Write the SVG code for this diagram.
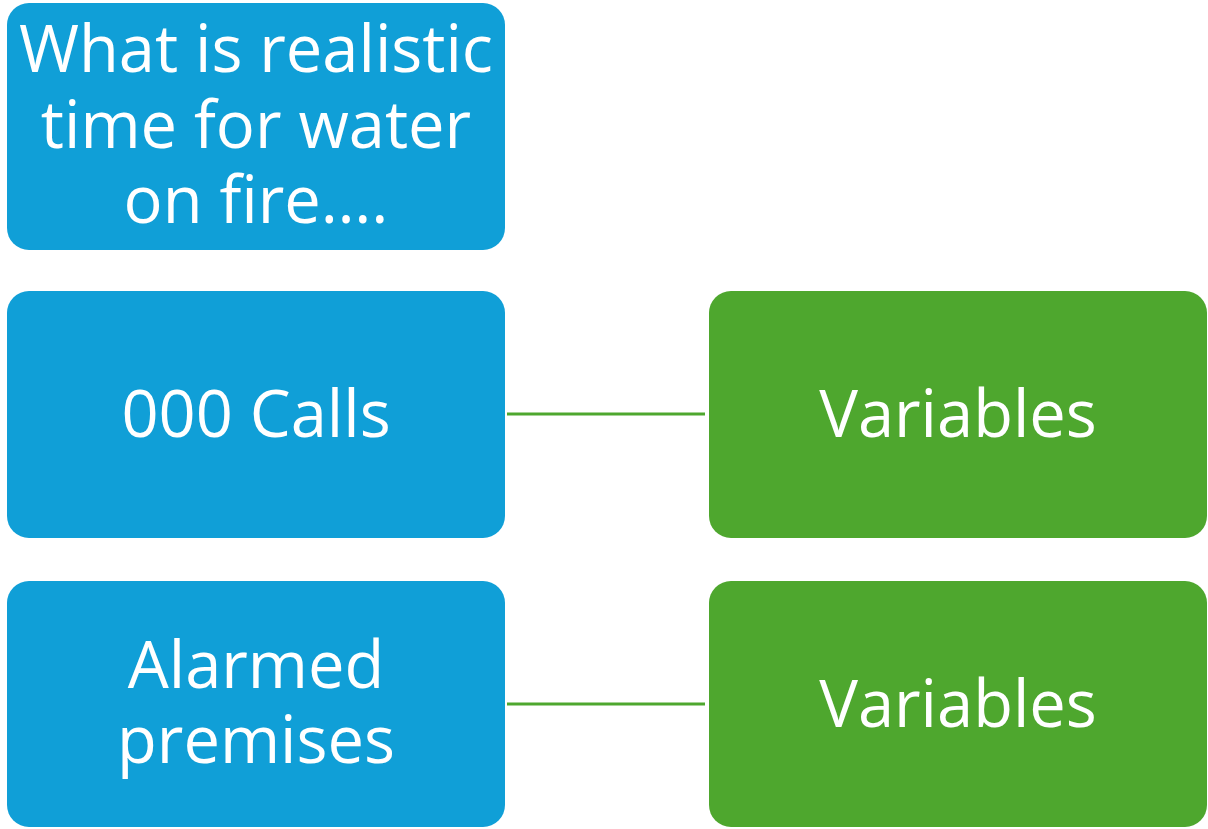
<svg xmlns="http://www.w3.org/2000/svg" width="1208" height="829" viewBox="0 0 1208 829">
  <style>
    .blue { fill: #109fd7; }
    .green { fill: #4ea72e; }
    .lbl { font-family: "Open Sans", "Noto Sans", sans-serif; font-size: 65px; fill: #ffffff; text-anchor: middle; }
    .link { stroke: #4ea72e; stroke-width: 3; fill: none; }
  </style>
  <rect width="1208" height="829" fill="#ffffff"/>
  <g id="connectors">
    <line class="link" x1="507" y1="414" x2="705" y2="414"/>
    <line class="link" x1="507" y1="704" x2="705" y2="704"/>
  </g>
  <g id="node-question">
    <rect class="blue" x="7" y="3" width="498" height="247" rx="22"/>
    <text class="lbl" x="256" y="72">What is realistic</text>
    <text class="lbl" x="256" y="148">time for water</text>
    <text class="lbl" x="256" y="223">on fire….</text>
  </g>
  <g id="node-calls">
    <rect class="blue" x="7" y="291" width="498" height="247" rx="22"/>
    <text class="lbl" x="256" y="437">000 Calls</text>
  </g>
  <g id="node-alarmed">
    <rect class="blue" x="7" y="581" width="498" height="246" rx="22"/>
    <text class="lbl" x="256" y="688">Alarmed</text>
    <text class="lbl" x="256" y="763">premises</text>
  </g>
  <g id="node-variables-1">
    <rect class="green" x="709" y="291" width="498" height="247" rx="22"/>
    <text class="lbl" x="958" y="437">Variables</text>
  </g>
  <g id="node-variables-2">
    <rect class="green" x="709" y="581" width="498" height="246" rx="22"/>
    <text class="lbl" x="958" y="727">Variables</text>
  </g>
</svg>
